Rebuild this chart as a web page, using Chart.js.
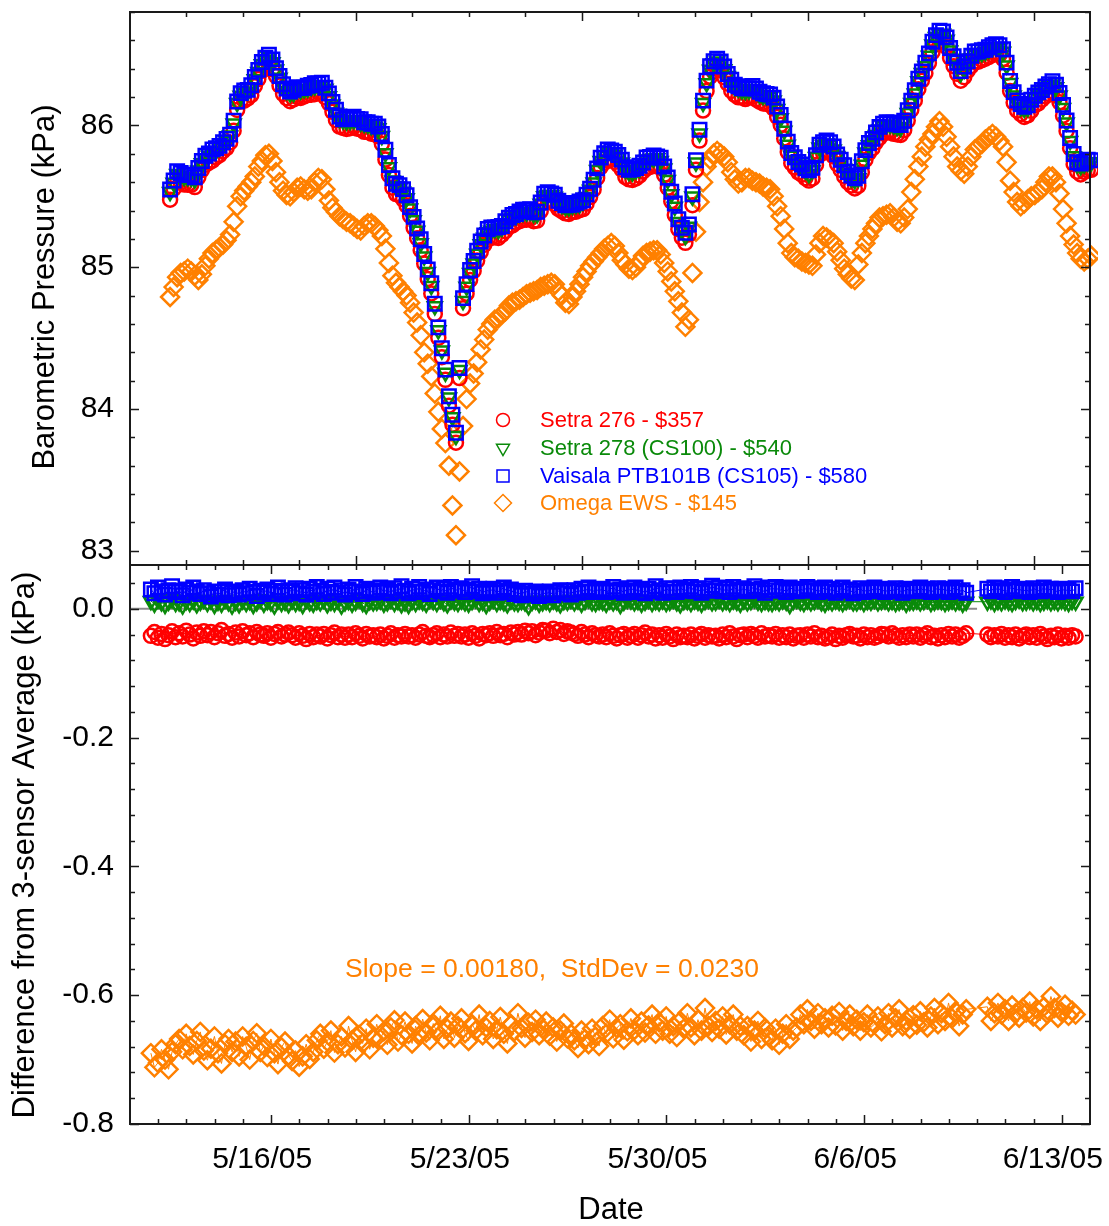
<!DOCTYPE html>
<html><head><meta charset="utf-8">
<script src="https://cdn.jsdelivr.net/npm/chart.js@4.4.1/dist/chart.umd.min.js"></script>
<style>
html,body{margin:0;padding:0;background:#fff;}
#wrap{position:relative;width:1109px;height:1226px;}
canvas{position:absolute;left:0;top:0;}
</style>
</head><body>
<div id="wrap"><canvas id="topc" width="1109" height="1226"></canvas><canvas id="botc" width="1109" height="1226"></canvas></div>
<script>
// ---- time axis: days after 5/11/05 00:00, samples every 3 hours ----
const dateLabels = ['5/16/05','5/23/05','5/30/05','6/6/05','6/13/05'];
const dateLabelDays = [5,12,19,26,33];
const sampleStepDays = 0.125;
const topStartDay = 1.42;
const botStartDay = 0.74;

// 3-sensor average barometric pressure (kPa)
const avg3 = [
85.518,85.588,85.644,85.637,85.630,85.623,85.616,85.609,
85.672,85.728,85.756,85.777,85.798,85.812,85.833,85.853,
85.881,85.916,86.007,86.147,86.202,86.216,86.230,86.258,
86.314,86.370,86.419,86.454,86.468,86.440,86.384,86.321,
86.265,86.230,86.216,86.223,86.237,86.237,86.244,86.251,
86.258,86.265,86.272,86.272,86.244,86.195,86.140,86.077,
86.035,86.021,86.021,86.021,86.028,86.021,86.014,86.000,
85.993,85.986,85.979,85.965,85.916,85.798,85.693,85.602,
85.560,85.546,85.525,85.477,85.400,85.323,85.246,85.163,
85.065,84.960,84.856,84.716,84.542,84.402,84.248,84.067,
83.930,83.800,84.262,84.751,84.856,84.947,85.016,85.086,
85.149,85.198,85.239,85.246,85.253,85.253,85.267,85.295,
85.323,85.337,85.351,85.365,85.372,85.379,85.379,85.365,
85.365,85.435,85.491,85.505,85.498,85.484,85.449,85.428,
85.414,85.414,85.421,85.428,85.435,85.449,85.484,85.532,
85.588,85.672,85.742,85.777,85.798,85.798,85.784,85.763,
85.728,85.679,85.658,85.658,85.672,85.686,85.714,85.742,
85.749,85.756,85.756,85.742,85.686,85.602,85.505,85.414,
85.309,85.253,85.211,85.274,85.484,85.728,85.937,86.147,
86.286,86.384,86.426,86.440,86.426,86.384,86.335,86.286,
86.258,86.244,86.237,86.230,86.237,86.244,86.230,86.209,
86.195,86.195,86.188,86.161,86.105,86.042,85.951,85.853,
85.777,85.742,85.714,85.693,85.672,85.651,85.672,85.763,
85.833,85.853,85.860,85.853,85.819,85.770,85.728,85.686,
85.644,85.616,85.602,85.616,85.714,85.798,85.846,85.881,
85.923,85.958,85.986,85.993,85.993,85.986,85.979,85.972,
86.007,86.077,86.147,86.216,86.300,86.356,86.412,86.480,
86.560,86.610,86.635,86.635,86.590,86.520,86.460,86.410,
86.356,86.384,86.426,86.461,86.488,86.495,86.502,86.509,
86.523,86.537,86.544,86.537,86.509,86.412,86.286,86.202,
86.147,86.119,86.105,86.112,86.147,86.181,86.202,86.223,
86.244,86.265,86.279,86.258,86.202,86.112,86.007,85.881,
85.770,85.714,85.700,85.714,85.728,85.728,85.721];

// Omega EWS barometric pressure (kPa)
const omegaPressure = [
84.79,84.86,84.93,84.96,84.97,84.99,84.97,84.94,
84.91,84.95,85.01,85.06,85.10,85.12,85.14,85.16,
85.19,85.23,85.32,85.43,85.50,85.54,85.57,85.60,
85.64,85.71,85.75,85.79,85.80,85.75,85.67,85.60,
85.54,85.51,85.50,85.53,85.56,85.57,85.55,85.54,
85.55,85.60,85.63,85.62,85.55,85.47,85.42,85.39,
85.36,85.34,85.32,85.31,85.29,85.27,85.26,85.29,
85.31,85.31,85.29,85.26,85.22,85.13,85.03,84.94,
84.89,84.86,84.83,84.80,84.75,84.68,84.61,84.52,
84.40,84.32,84.23,84.11,83.98,83.86,83.76,83.60,
83.32,83.11,83.56,83.88,84.07,84.18,84.25,84.33,
84.42,84.49,84.56,84.60,84.63,84.64,84.67,84.69,
84.73,84.75,84.76,84.77,84.79,84.81,84.82,84.83,
84.84,84.86,84.87,84.88,84.89,84.88,84.83,84.80,
84.75,84.74,84.79,84.83,84.88,84.93,84.97,85.01,
85.04,85.07,85.10,85.13,85.15,85.17,85.15,85.10,
85.05,85.02,84.99,84.98,85.00,85.04,85.08,85.10,
85.11,85.12,85.12,85.09,85.03,84.97,84.90,84.83,
84.76,84.68,84.58,84.63,84.96,85.25,85.46,85.60,
85.71,85.76,85.80,85.82,85.80,85.78,85.74,85.67,
85.62,85.59,85.60,85.63,85.63,85.61,85.60,85.59,
85.57,85.56,85.55,85.50,85.43,85.36,85.27,85.17,
85.10,85.07,85.06,85.04,85.03,85.02,85.01,85.09,
85.17,85.22,85.21,85.19,85.17,85.11,85.05,84.99,
84.95,84.92,84.91,85.02,85.10,85.17,85.22,85.27,
85.31,85.35,85.36,85.37,85.38,85.35,85.32,85.31,
85.35,85.41,85.53,85.62,85.71,85.78,85.85,85.90,
85.94,85.99,86.03,85.99,85.92,85.85,85.78,85.71,
85.68,85.66,85.71,85.78,85.83,85.85,85.87,85.90,
85.92,85.94,85.92,85.89,85.85,85.74,85.61,85.53,
85.46,85.43,85.45,85.48,85.50,85.51,85.53,85.55,
85.60,85.64,85.64,85.60,85.52,85.41,85.31,85.22,
85.16,85.10,85.06,85.04,85.06,85.08,85.09];

// differences from 3-sensor average (kPa); null = missing samples
const diffSetra276 = [
-.042,-.036,-.045,-.039,-.047,-.041,-.035,-.044,
-.038,-.043,-.034,-.040,-.046,-.037,-.042,-.035,
-.041,-.036,-.044,-.038,-.033,-.042,-.039,-.045,
-.037,-.043,-.035,-.041,-.038,-.044,-.036,-.040,
-.042,-.038,-.045,-.039,-.036,-.043,-.040,-.037,
-.041,-.045,-.038,-.042,-.047,-.039,-.044,-.040,
-.043,-.039,-.046,-.041,-.037,-.044,-.040,-.045,
-.040,-.044,-.038,-.042,-.046,-.039,-.043,-.041,
-.044,-.040,-.046,-.042,-.038,-.045,-.041,-.043,
-.039,-.043,-.041,-.045,-.040,-.036,-.042,-.044,
-.041,-.038,-.044,-.040,-.043,-.037,-.042,-.039,
-.043,-.040,-.045,-.038,-.042,-.046,-.039,-.041,
-.038,-.042,-.036,-.041,-.039,-.044,-.037,-.040,
-.036,-.040,-.034,-.038,-.035,-.041,-.037,-.033,
-.034,-.038,-.031,-.036,-.033,-.039,-.035,-.037,
-.039,-.042,-.036,-.040,-.044,-.038,-.041,-.043,
-.040,-.044,-.038,-.042,-.046,-.041,-.039,-.045,
-.042,-.039,-.045,-.041,-.037,-.043,-.040,-.046,
-.041,-.045,-.039,-.043,-.047,-.040,-.044,-.042,
-.044,-.040,-.046,-.042,-.039,-.045,-.041,-.043,
-.042,-.046,-.040,-.044,-.038,-.043,-.047,-.041,
-.040,-.044,-.039,-.042,-.045,-.038,-.043,-.041,
-.043,-.039,-.045,-.041,-.044,-.040,-.046,-.042,
-.041,-.045,-.040,-.043,-.038,-.044,-.042,-.046,
-.044,-.040,-.047,-.042,-.045,-.041,-.039,-.043,
-.042,-.046,-.040,-.044,-.041,-.045,-.043,-.039,
-.040,-.043,-.038,-.042,-.045,-.041,-.044,-.040,
-.043,-.040,-.045,-.041,-.038,-.044,-.042,-.046,
-.041,-.044,-.039,-.043,-.040,-.045,-.042,-.038,
null,null,null,null,null,-.040,-.044,-.041,
-.043,-.039,-.045,-.041,-.044,-.040,-.046,-.042,
-.040,-.044,-.041,-.045,-.039,-.043,-.047,-.042,
-.044,-.040,-.046,-.042,-.045,-.041,-.043];

const diffSetra278 = [
.012,.008,.014,.010,.006,.011,.015,.009,
.010,.005,.012,.009,.013,.007,.011,.014,
.009,.013,.006,.011,.008,.014,.010,.005,
.011,.007,.013,.009,.012,.006,.010,.015,
.008,.012,.010,.005,.013,.009,.011,.007,
.013,.009,.011,.006,.014,.010,.008,.012,
.010,.014,.007,.011,.009,.013,.005,.010,
.012,.008,.011,.015,.009,.006,.012,.010,
.011,.013,.008,.010,.014,.009,.012,.007,
.010,.006,.012,.009,.013,.011,.008,.014,
.012,.009,.014,.010,.007,.013,.011,.009,
.013,.010,.008,.012,.015,.009,.011,.006,
.011,.014,.009,.012,.010,.007,.013,.010,
.009,.012,.010,.004,.011,.013,.008,.010,
.012,.009,.013,.010,.007,.012,.011,.014,
.010,.013,.008,.012,.015,.010,.009,.012,
.011,.008,.013,.010,.012,.006,.011,.014,
.013,.010,.012,.008,.011,.014,.009,.012,
.010,.013,.009,.011,.014,.010,.007,.012,
.012,.009,.013,.011,.008,.012,.014,.010,
.011,.014,.010,.012,.009,.013,.011,.008,
.013,.010,.012,.015,.011,.009,.012,.010,
.009,.012,.010,.013,.011,.006,.012,.014,
.011,.009,.013,.010,.012,.014,.010,.008,
.012,.010,.013,.011,.009,.012,.014,.010,
.010,.013,.009,.012,.011,.014,.010,.012,
.013,.010,.012,.009,.011,.013,.008,.011,
.011,.013,.010,.012,.014,.009,.011,.013,
.012,.009,.011,.013,.010,.012,.008,.011,
null,null,null,null,null,.011,.013,.009,
.012,.010,.013,.011,.009,.012,.014,.010,
.011,.013,.010,.012,.009,.011,.013,.010,
.012,.010,.013,.011,.009,.012,.011];

const diffVaisala = [
.030,.024,.033,.027,.022,.029,.035,.026,
.028,.021,.030,.025,.033,.027,.023,.029,
.024,.019,.027,.022,.026,.030,.021,.025,
.027,.022,.029,.024,.031,.026,.020,.028,
.025,.030,.023,.028,.033,.026,.022,.029,
.027,.032,.024,.029,.022,.031,.026,.034,
.028,.023,.031,.026,.033,.025,.029,.022,
.030,.026,.034,.027,.023,.031,.028,.025,
.029,.033,.026,.030,.024,.032,.027,.035,
.028,.024,.031,.027,.034,.026,.030,.023,
.029,.033,.027,.031,.025,.034,.028,.030,
.032,.026,.030,.035,.027,.031,.024,.029,
.027,.031,.025,.029,.033,.026,.030,.023,
.026,.021,.028,.024,.022,.027,.020,.025,
.023,.027,.021,.026,.029,.024,.028,.022,
.029,.025,.031,.027,.033,.026,.030,.028,
.031,.026,.029,.034,.027,.030,.025,.032,
.028,.033,.026,.030,.024,.031,.027,.035,
.029,.025,.032,.027,.031,.026,.033,.028,
.030,.034,.027,.031,.025,.032,.028,.036,
.029,.033,.027,.031,.026,.034,.030,.028,
.032,.027,.030,.035,.028,.031,.025,.033,
.029,.034,.028,.031,.026,.033,.030,.027,
.031,.028,.034,.029,.032,.026,.030,.033,
.027,.031,.025,.029,.033,.028,.030,.024,
.028,.032,.026,.030,.027,.033,.029,.031,
.026,.030,.027,.032,.029,.025,.031,.028,
.030,.027,.033,.028,.031,.026,.029,.032,
.028,.031,.026,.030,.033,.027,.029,.025,
null,null,null,null,null,.031,.027,.033,
.029,.032,.026,.030,.034,.028,.031,.027,
.030,.026,.032,.029,.027,.033,.028,.031,
.029,.026,.031,.028,.030,.027,.032];

const diffOmega = [
-.690,-.712,-.705,-.684,-.700,-.715,-.688,-.676,
-.668,-.684,-.660,-.679,-.692,-.671,-.657,-.686,
-.701,-.683,-.664,-.690,-.706,-.676,-.668,-.688,
-.672,-.695,-.664,-.680,-.700,-.671,-.659,-.688,
-.679,-.696,-.668,-.690,-.707,-.681,-.672,-.694,
-.702,-.686,-.711,-.695,-.676,-.699,-.688,-.670,
-.660,-.683,-.672,-.655,-.689,-.676,-.664,-.681,
-.648,-.670,-.688,-.662,-.675,-.652,-.684,-.666,
-.645,-.668,-.656,-.677,-.650,-.639,-.672,-.662,
-.641,-.660,-.675,-.648,-.663,-.637,-.658,-.670,
-.644,-.657,-.632,-.668,-.652,-.641,-.666,-.648,
-.636,-.659,-.671,-.645,-.655,-.630,-.662,-.650,
-.640,-.668,-.653,-.634,-.660,-.675,-.646,-.656,
-.628,-.651,-.666,-.643,-.657,-.638,-.662,-.652,
-.641,-.663,-.650,-.672,-.655,-.644,-.667,-.660,
-.670,-.682,-.655,-.668,-.676,-.652,-.664,-.679,
-.648,-.660,-.638,-.667,-.651,-.645,-.669,-.656,
-.636,-.654,-.662,-.641,-.658,-.647,-.630,-.660,
-.642,-.655,-.633,-.660,-.648,-.665,-.640,-.652,
-.628,-.650,-.662,-.638,-.655,-.620,-.648,-.657,
-.640,-.652,-.633,-.661,-.645,-.630,-.655,-.648,
-.662,-.648,-.672,-.655,-.640,-.668,-.651,-.663,
-.670,-.652,-.677,-.660,-.645,-.668,-.655,-.650,
-.630,-.645,-.622,-.640,-.652,-.628,-.645,-.636,
-.650,-.632,-.647,-.626,-.655,-.640,-.630,-.648,
-.638,-.655,-.642,-.630,-.650,-.645,-.633,-.656,
-.645,-.628,-.650,-.636,-.622,-.648,-.640,-.652,
-.631,-.646,-.625,-.642,-.650,-.633,-.620,-.645,
-.628,-.640,-.612,-.636,-.625,-.648,-.630,-.622,
null,null,null,null,null,-.618,-.640,-.628,
-.612,-.630,-.622,-.640,-.616,-.628,-.635,-.620,
-.627,-.610,-.633,-.622,-.640,-.618,-.629,-.602,
-.620,-.635,-.626,-.615,-.632,-.624,-.630];

// typical sensor offsets from the 3-sensor average (kPa), used where a difference sample is missing
const meanOffset276 = -0.040, meanOffset278 = 0.010, meanOffsetVaisala = 0.028;

// zero reference line (kPa) from axis start to 6/10/05
const zeroLineDays = [0, 30.0];
const zeroLineValues = [0, 0];

const seriesNames = ['Setra 276 - $357','Setra 278 (CS100) - $540','Vaisala PTB101B (CS105) - $580','Omega EWS - $145'];
const annotationText = 'Slope = 0.00180,  StdDev = 0.0230';

// ---- build ----
const FONT = "'Liberation Sans', Arial, Helvetica, sans-serif";
const RED = '#ff0000', GREEN = '#0a8a0a', BLUE = '#0000ff', ORANGE = '#ff8000';

function pts(start, vals){ return vals.map((v,i)=>({x: start + i*sampleStepDays, y: v})); }
function addTo(base, d, fallback){ return base.map((v,i)=> v + (d[i]==null ? fallback : d[i])); }

const styles = {
  red:   {pointStyle:'circle', pointRadius:7, legendRadius:6.5, pointRotation:0, color:RED},
  green: {pointStyle:'triangle', pointRadius:8, legendRadius:7.5, pointRotation:180, color:GREEN},
  blue:  {pointStyle:'rect', pointRadius:9.5, legendRadius:8.5, pointRotation:0, color:BLUE},
  orange:{pointStyle:'rectRot', pointRadius:9, legendRadius:8.5, pointRotation:0, color:ORANGE}
};
function ds(label, data, st, order, line, clip){
  return {label, data, order, pointStyle:st.pointStyle, pointRadius:st.pointRadius,
    pointRotation:st.pointRotation, pointBorderColor:st.color, pointBackgroundColor:'rgba(0,0,0,0)',
    pointBorderWidth:2.5, borderColor:st.color, borderWidth:1, showLine:line, spanGaps:true,
    pointHoverRadius:st.pointRadius, clip:clip};
}

function makeFrame(xTicks, yTicks, xTop, xBottom){
  return {id:'frame', afterDatasetsDraw(chart){
    const {ctx, chartArea:a, scales:{x, y}} = chart;
    ctx.save();
    ctx.strokeStyle = '#1a1a1a'; ctx.lineWidth = 1.5;
    ctx.beginPath();
    xTicks.forEach(t=>{
      const p = Math.round(x.getPixelForValue(t.v)) + 0.5, L = t.major ? 9 : 5;
      if (xTop){ ctx.moveTo(p, a.top); ctx.lineTo(p, a.top + L); }
      if (xBottom){ ctx.moveTo(p, a.bottom); ctx.lineTo(p, a.bottom - L); }
    });
    yTicks.forEach(t=>{
      const p = Math.round(y.getPixelForValue(t.v)) + 0.5, L = t.major ? 9 : 5;
      ctx.moveTo(a.left, p); ctx.lineTo(a.left + L, p);
      ctx.moveTo(a.right, p); ctx.lineTo(a.right - L, p);
    });
    ctx.stroke();
    ctx.lineWidth = 2;
    ctx.strokeRect(a.left, a.top, a.right - a.left, a.bottom - a.top);
    ctx.restore();
  }};
}

function vtitle(ctx, text, x, y){
  ctx.save(); ctx.translate(x, y); ctx.rotate(-Math.PI/2);
  ctx.fillStyle = '#000'; ctx.font = '31px ' + FONT; ctx.textAlign = 'center'; ctx.textBaseline = 'middle';
  ctx.fillText(text, 0, 0); ctx.restore();
}

function drawMarker(ctx, kind, x, y){
  const st = styles[kind]; ctx.save(); ctx.strokeStyle = st.color; ctx.lineWidth = 1.5; ctx.beginPath();
  const r = st.legendRadius;
  if (kind === 'red'){ ctx.arc(x, y, r, 0, Math.PI*2); }
  else if (kind === 'green'){ const h = r; ctx.moveTo(x, y + h); ctx.lineTo(x - h*0.866, y - h/2); ctx.lineTo(x + h*0.866, y - h/2); ctx.closePath(); }
  else if (kind === 'blue'){ const s = r*Math.SQRT1_2; ctx.rect(x - s, y - s, 2*s, 2*s); }
  else { ctx.moveTo(x, y - r); ctx.lineTo(x + r, y); ctx.lineTo(x, y + r); ctx.lineTo(x - r, y); ctx.closePath(); }
  ctx.stroke(); ctx.restore();
}

const topTextPlugin = {id:'topText', afterDraw(chart){
  const ctx = chart.ctx;
  vtitle(ctx, 'Barometric Pressure (kPa)', 45, 287);
  const kinds = ['red','green','blue','orange'];
  const rows = [420, 448, 476, 503];
  ctx.save(); ctx.font = '22px ' + FONT; ctx.textBaseline = 'middle'; ctx.textAlign = 'left';
  kinds.forEach((k,i)=>{ drawMarker(ctx, k, 503, rows[i]); ctx.fillStyle = styles[k].color; ctx.fillText(seriesNames[i], 540, rows[i] + 1); });
  ctx.restore();
}};
const botTextPlugin = {id:'botText', afterDraw(chart){
  const ctx = chart.ctx;
  vtitle(ctx, 'Difference from 3-sensor Average (kPa)', 25, 845);
  ctx.save(); ctx.fillStyle = '#000'; ctx.font = '31px ' + FONT; ctx.textAlign = 'center'; ctx.textBaseline = 'middle';
  ctx.fillText('Date', 611, 1210);
  ctx.fillStyle = ORANGE; ctx.font = '26.5px ' + FONT; ctx.textAlign = 'left';
  ctx.fillText(annotationText, 345, 970);
  ctx.restore();
}};

// tick positions
const topXTicks = []; for (let d = 2; d <= 32; d += 2) topXTicks.push({v:d, major: d % 8 === 0});
const botXTicks = []; for (let d = 1; d <= 33; d++) botXTicks.push({v:d, major: dateLabelDays.includes(d)});
const topYTicks = []; for (let k = 0; k <= 19; k++) topYTicks.push({v: 83 + 0.2*k, major: k % 5 === 0});
const botYTicks = []; for (let k = 0; k <= 21; k++) botYTicks.push({v: -0.8 + 0.04*k, major: k % 5 === 0});

const tickFont = {family: FONT, size: 30};
function noPadV(s){ s.width = 130; s.paddingTop = 0; s.paddingBottom = 0; }
function noPadH(s){ s.paddingLeft = 0; s.paddingRight = 0; }

// ---- top chart ----
new Chart(document.getElementById('topc'), {
  type: 'scatter',
  data: {datasets: [
    ds(seriesNames[2], pts(topStartDay, addTo(avg3, diffVaisala, meanOffsetVaisala)), styles.blue, 0, false, 8),
    ds(seriesNames[1], pts(topStartDay, addTo(avg3, diffSetra278, meanOffset278)), styles.green, 1, false, 8),
    ds(seriesNames[0], pts(topStartDay, addTo(avg3, diffSetra276, meanOffset276)), styles.red, 2, false, 8),
    ds(seriesNames[3], pts(topStartDay, omegaPressure), styles.orange, 3, false, 8)
  ]},
  options: {
    responsive: false, animation: false, events: [], devicePixelRatio: 1,
    layout: {padding: {left: 0, right: 19, top: 6, bottom: 661}},
    plugins: {legend: {display: false}, tooltip: {enabled: false}},
    scales: {
      x: {type: 'linear', display: false, min: 0, max: 34, afterFit: noPadH},
      y: {type: 'linear', min: 82.9, max: 86.8,
          grid: {display: false}, border: {display: false},
          afterFit: noPadV,
          ticks: {stepSize: 1, includeBounds: false, color: '#000', font: tickFont, padding: 8,
                  callback: v => (Math.abs(v - Math.round(v)) < 1e-6 ? String(Math.round(v)) : '')}}
    }
  },
  plugins: [makeFrame(topXTicks, topYTicks, true, true), topTextPlugin]
});

// ---- bottom chart ----
new Chart(document.getElementById('botc'), {
  type: 'scatter',
  data: {datasets: [
    ds(seriesNames[2], pts(botStartDay, diffVaisala), styles.blue, 0, true, 0),
    ds(seriesNames[1], pts(botStartDay, diffSetra278), styles.green, 1, true, 0),
    ds(seriesNames[0], pts(botStartDay, diffSetra276), styles.red, 2, true, 0),
    ds(seriesNames[3], pts(botStartDay, diffOmega), styles.orange, 3, true, 0),
    {label: 'zero', data: zeroLineDays.map((d,i)=>({x: d, y: zeroLineValues[i]})), order: 5,
     showLine: true, pointRadius: 0, borderColor: '#8a8a8a', borderWidth: 2}
  ]},
  options: {
    responsive: false, animation: false, events: [], devicePixelRatio: 1,
    layout: {padding: {left: 0, right: 19, top: 565, bottom: 0}},
    plugins: {legend: {display: false}, tooltip: {enabled: false}},
    scales: {
      x: {type: 'linear', min: 0, max: 34, position: 'bottom',
          grid: {display: false}, border: {display: false},
          afterFit(s){ s.height = 102; s.paddingLeft = 0; s.paddingRight = 0; },
          ticks: {stepSize: 1, autoSkip: false, maxRotation: 0, includeBounds: false, color: '#000',
                  font: tickFont, padding: 10, labelOffset: -9,
                  callback: v => { const k = dateLabelDays.indexOf(Math.round(v)); return (k >= 0 && Math.abs(v - Math.round(v)) < 1e-6) ? dateLabels[k] : ''; }}},
      y: {type: 'linear', min: -0.8, max: 0.068,
          grid: {display: false}, border: {display: false},
          afterFit: noPadV,
          ticks: {stepSize: 0.2, includeBounds: false, color: '#000', font: tickFont, padding: 8,
                  callback: v => (Math.abs(v) < 1e-9 ? '0.0' : v.toFixed(1))}}
    }
  },
  plugins: [makeFrame(botXTicks, botYTicks, true, true), botTextPlugin]
});
</script>
</body></html>
